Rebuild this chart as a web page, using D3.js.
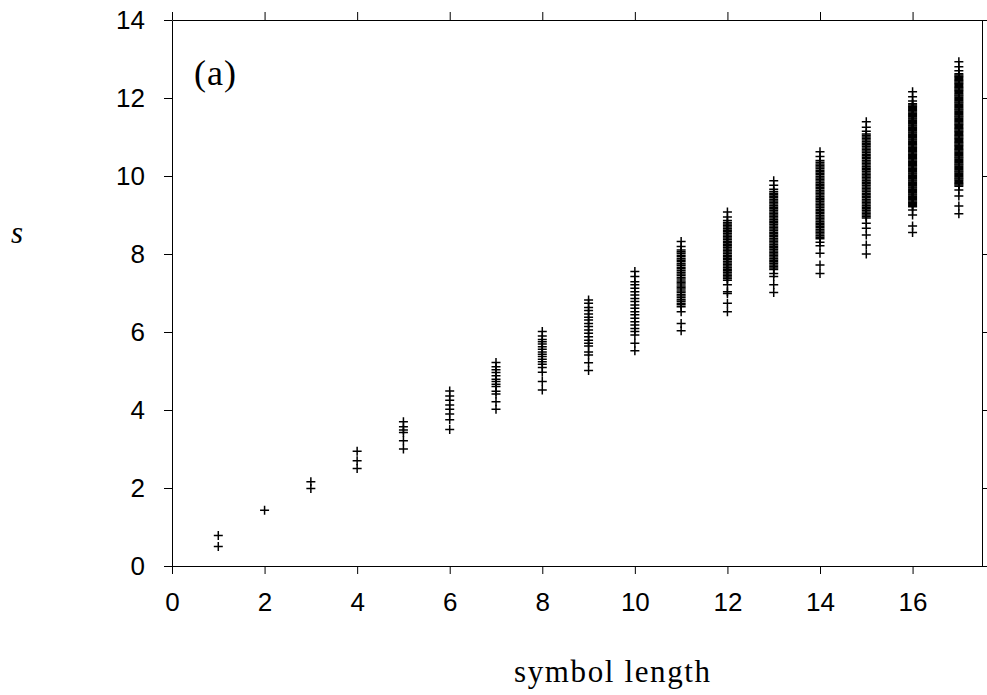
<!DOCTYPE html>
<meta charset="utf-8">
<style>
body { margin: 0; background: #fff; }
.axis text { font-family: "Liberation Sans", Arial, sans-serif; font-size: 26px; fill: #000; }
.axis path, .axis line { stroke: #000; stroke-width: 1; }
.pt { stroke: #000; stroke-width: 1.5; fill: none; }
.lbl { font-family: "Liberation Serif", "Times New Roman", serif; fill: #000; }
</style>
<svg width="987" height="695"></svg>
<script src="https://d3js.org/d3.v7.min.js"></script>
<script>

// symbol length on x, s on y (one array of s values per length)
var lengths = [1, 2, 3, 4, 5, 6, 7, 8, 9, 10, 11, 12, 13, 14, 15, 16, 17];

var s1 = [0.50, 0.78];
var s2 = [1.43];
var s3 = [1.99, 2.16];
var s4 = [2.50, 2.70, 2.94];
var s5 = [3.00, 3.21, 3.42, 3.49, 3.57, 3.70];
var s6 = [3.50, 3.75, 3.90, 4.02, 4.13, 4.25, 4.36, 4.49];
var s7 = [4.02, 4.21, 4.41, 4.48, 4.60, 4.66, 4.73, 4.79, 4.88, 4.96, 5.03, 5.11, 5.22];
var s8 = [4.51, 4.73, 4.97, 5.09, 5.17, 5.24, 5.30, 5.37, 5.43, 5.49, 5.56, 5.62, 5.69, 5.75,
  5.81, 5.90, 6.01];
var s9 = [5.01, 5.21, 5.41, 5.49, 5.64, 5.71, 5.79, 5.88, 5.97, 6.05, 6.14, 6.22, 6.31, 6.38,
  6.46, 6.55, 6.63, 6.74, 6.82];
var s10 = [5.52, 5.71, 5.92, 6.01, 6.09, 6.18, 6.26, 6.35, 6.44, 6.52, 6.61, 6.69, 6.78, 6.86,
  6.95, 7.03, 7.12, 7.21, 7.29, 7.42, 7.55];
var s11 = [6.03, 6.22, 6.52, 6.65, 6.70, 6.74, 6.79, 6.83, 6.88, 6.92, 6.96, 7.01, 7.05, 7.10,
  7.14, 7.18, 7.23, 7.27, 7.31, 7.36, 7.40, 7.45, 7.49, 7.53, 7.58, 7.62, 7.66, 7.71, 7.75,
  7.80, 7.84, 7.88, 7.93, 7.97, 8.02, 8.06, 8.10, 8.19, 8.32];
var s12 = [6.52, 6.74, 6.99, 7.03, 7.21, 7.33, 7.37, 7.41, 7.45, 7.49, 7.53, 7.57, 7.61, 7.65,
  7.69, 7.73, 7.77, 7.81, 7.85, 7.89, 7.93, 7.97, 8.01, 8.05, 8.09, 8.13, 8.17, 8.21, 8.25,
  8.29, 8.33, 8.37, 8.41, 8.45, 8.49, 8.53, 8.57, 8.61, 8.65, 8.69, 8.73, 8.77, 8.81, 8.86,
  8.95, 9.08];
var s13 = [7.01, 7.21, 7.42, 7.50, 7.60, 7.64, 7.68, 7.72, 7.76, 7.80, 7.84, 7.88, 7.92, 7.96,
  8.00, 8.04, 8.08, 8.12, 8.16, 8.20, 8.24, 8.28, 8.32, 8.36, 8.40, 8.44, 8.48, 8.52, 8.56,
  8.60, 8.64, 8.68, 8.72, 8.76, 8.80, 8.84, 8.88, 8.92, 8.96, 9.00, 9.04, 9.08, 9.12, 9.16,
  9.20, 9.24, 9.28, 9.32, 9.36, 9.40, 9.44, 9.48, 9.52, 9.56, 9.60, 9.66, 9.76, 9.88];
var s14 = [7.50, 7.72, 8.02, 8.21, 8.30, 8.39, 8.43, 8.47, 8.51, 8.55, 8.59, 8.63, 8.67, 8.71,
  8.75, 8.79, 8.83, 8.87, 8.91, 8.95, 8.99, 9.03, 9.07, 9.11, 9.15, 9.19, 9.23, 9.27, 9.31,
  9.35, 9.39, 9.43, 9.47, 9.51, 9.55, 9.59, 9.63, 9.67, 9.71, 9.75, 9.79, 9.83, 9.87, 9.91,
  9.95, 9.99, 10.03, 10.07, 10.11, 10.15, 10.19, 10.23, 10.27, 10.31, 10.35, 10.40, 10.50,
  10.62];
var s15 = [8.00, 8.23, 8.49, 8.66, 8.79, 8.92, 8.96, 9.00, 9.04, 9.08, 9.12, 9.16, 9.20, 9.24,
  9.28, 9.32, 9.36, 9.40, 9.44, 9.48, 9.52, 9.56, 9.60, 9.64, 9.68, 9.72, 9.76, 9.80, 9.84,
  9.88, 9.92, 9.96, 10.00, 10.04, 10.08, 10.12, 10.16, 10.20, 10.24, 10.28, 10.32, 10.36,
  10.40, 10.44, 10.48, 10.52, 10.56, 10.60, 10.64, 10.68, 10.72, 10.76, 10.80, 10.84, 10.88,
  10.92, 10.96, 11.00, 11.04, 11.08, 11.15, 11.25, 11.39];
var s16 = [8.55, 8.72, 9.00, 9.13, 9.21, 9.24, 9.27, 9.30, 9.33, 9.36, 9.39, 9.42, 9.45, 9.48,
  9.51, 9.54, 9.57, 9.60, 9.63, 9.66, 9.69, 9.72, 9.75, 9.78, 9.81, 9.84, 9.87, 9.90, 9.93,
  9.96, 9.99, 10.02, 10.05, 10.08, 10.11, 10.14, 10.17, 10.20, 10.23, 10.26, 10.29, 10.32,
  10.35, 10.38, 10.41, 10.44, 10.47, 10.50, 10.53, 10.56, 10.59, 10.62, 10.65, 10.68, 10.71,
  10.74, 10.77, 10.80, 10.83, 10.86, 10.89, 10.92, 10.95, 10.98, 11.01, 11.04, 11.07, 11.10,
  11.13, 11.16, 11.19, 11.22, 11.25, 11.28, 11.31, 11.34, 11.37, 11.40, 11.43, 11.46, 11.49,
  11.52, 11.55, 11.58, 11.61, 11.64, 11.67, 11.70, 11.73, 11.76, 11.79, 11.82, 11.85, 11.92,
  12.03, 12.16];
var s17 = [9.03, 9.23, 9.49, 9.64, 9.74, 9.77, 9.80, 9.83, 9.86, 9.89, 9.92, 9.95, 9.98, 10.01,
  10.04, 10.07, 10.10, 10.13, 10.16, 10.19, 10.22, 10.25, 10.28, 10.31, 10.34, 10.37, 10.40,
  10.43, 10.46, 10.49, 10.52, 10.55, 10.58, 10.61, 10.64, 10.67, 10.70, 10.73, 10.76, 10.79,
  10.82, 10.85, 10.88, 10.91, 10.94, 10.97, 11.00, 11.03, 11.06, 11.09, 11.12, 11.15, 11.18,
  11.21, 11.24, 11.27, 11.30, 11.33, 11.36, 11.39, 11.42, 11.45, 11.48, 11.51, 11.54, 11.57,
  11.60, 11.63, 11.66, 11.69, 11.72, 11.75, 11.78, 11.81, 11.84, 11.87, 11.90, 11.93, 11.96,
  11.99, 12.02, 12.05, 12.08, 12.11, 12.14, 12.17, 12.20, 12.23, 12.26, 12.29, 12.32, 12.35,
  12.38, 12.41, 12.44, 12.47, 12.50, 12.53, 12.56, 12.59, 12.62, 12.70, 12.80, 12.93];

var sByLength = [s1, s2, s3, s4, s5, s6, s7, s8, s9, s10, s11, s12, s13, s14, s15, s16, s17];

var xTicks = [0, 2, 4, 6, 8, 10, 12, 14, 16];
var yTicks = [0, 2, 4, 6, 8, 10, 12, 14];

var svg = d3.select("svg"),
    margin = {top: 20, right: 5, bottom: 129, left: 172},
    width = +svg.attr("width") - margin.left - margin.right,
    height = +svg.attr("height") - margin.top - margin.bottom;

var x = d3.scaleLinear().domain([0, 17.5]).range([0, width]),
    y = d3.scaleLinear().domain([0, 14]).range([height, 0]);

var g = svg.append("g")
    .attr("transform", "translate(" + margin.left + "," + margin.top + ")");

g.append("g")
    .attr("class", "axis")
    .attr("transform", "translate(0," + height + ")")
    .call(d3.axisBottom(x).tickValues(xTicks).tickSize(8).tickSizeOuter(0).tickPadding(19));

g.append("g")
    .attr("class", "axis")
    .call(d3.axisLeft(y).tickValues(yTicks).tickSize(8).tickSizeOuter(0).tickPadding(19));

g.append("g")
    .attr("class", "axis")
    .call(d3.axisTop(x).tickValues(xTicks).tickSize(8).tickSizeOuter(0).tickFormat(""));

g.append("g")
    .attr("class", "axis")
    .attr("transform", "translate(" + width + ",0)")
    .call(d3.axisRight(y).tickValues(yTicks).tickSize(8).tickSizeOuter(0).tickFormat(""));

// flatten to points
var points = [];
lengths.forEach(function(n, i) {
  sByLength[i].forEach(function(v) { points.push({n: n, s: v}); });
});

var half = 4.5;
g.selectAll(".pt")
  .data(points)
  .enter().append("path")
  .attr("class", "pt")
  .attr("d", function(d) {
    var cx = x(d.n), cy = y(d.s);
    return "M" + (cx - half) + "," + cy + "H" + (cx + half) +
           "M" + cx + "," + (cy - half) + "V" + (cy + half);
  });

svg.append("text")
  .attr("class", "lbl")
  .attr("x", 194).attr("y", 85)
  .attr("font-size", 36)
  .attr("letter-spacing", 1)
  .text("(a)");

svg.append("text")
  .attr("class", "lbl")
  .attr("x", 11).attr("y", 243)
  .attr("font-size", 31)
  .attr("font-style", "italic")
  .text("s");

svg.append("text")
  .attr("class", "lbl")
  .attr("x", 514).attr("y", 682)
  .attr("font-size", 31)
  .attr("textLength", 196).attr("lengthAdjust", "spacing")
  .text("symbol length");

</script>
